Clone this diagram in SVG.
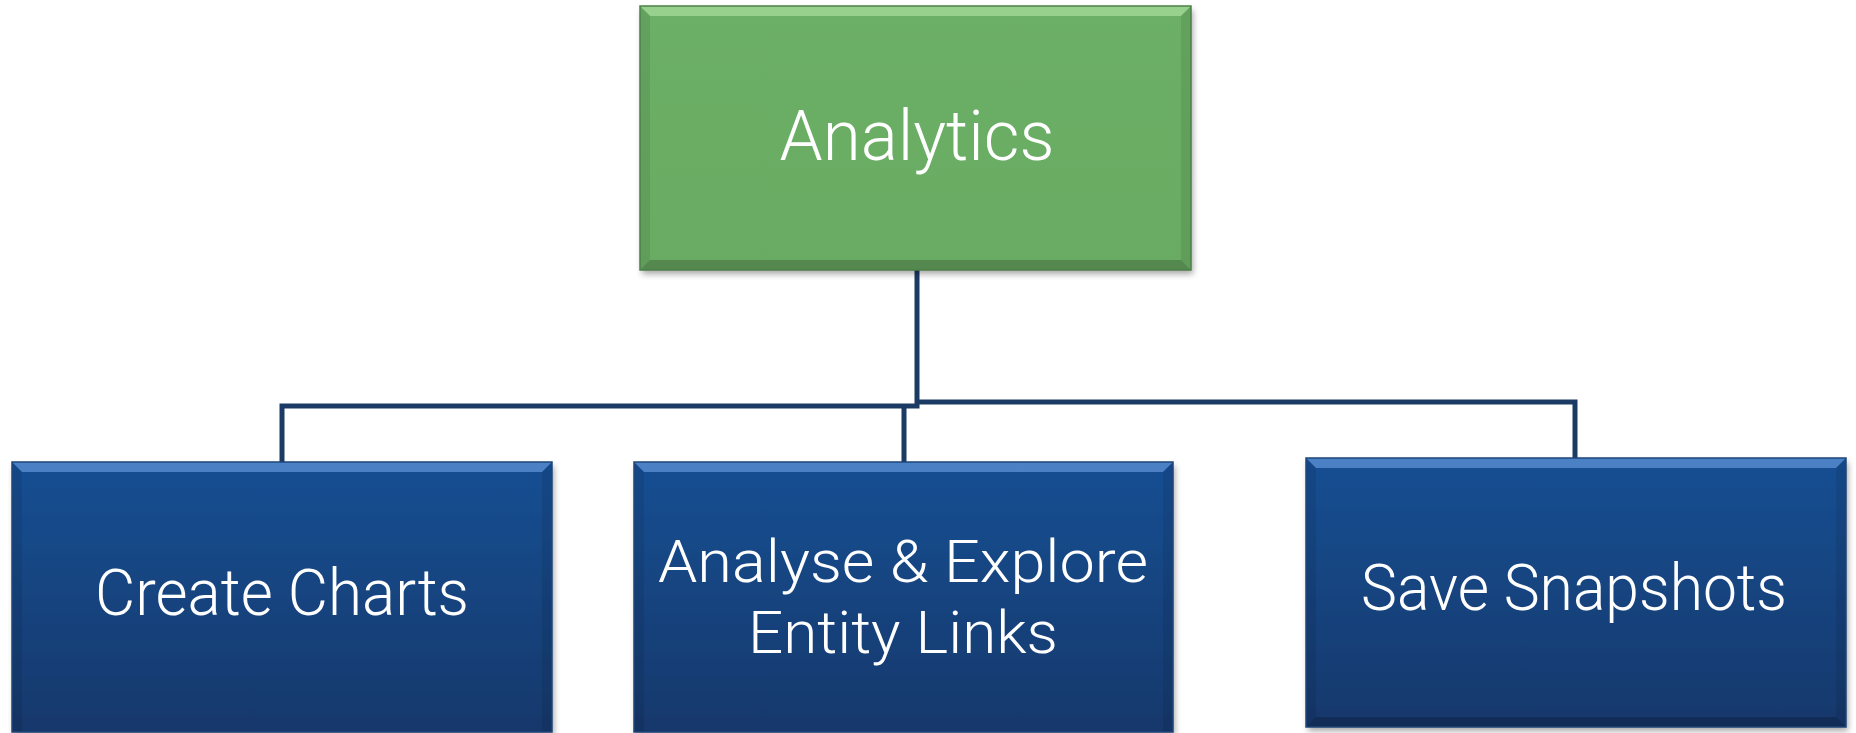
<svg xmlns="http://www.w3.org/2000/svg" width="1856" height="733" viewBox="0 0 1856 733">
<defs>
<linearGradient id="gBlue" x1="0" y1="0" x2="0" y2="1">
<stop offset="0" stop-color="#164f93"/>
<stop offset="1" stop-color="#12386b"/>
</linearGradient>
<linearGradient id="gGreen" x1="0" y1="0" x2="0" y2="1">
<stop offset="0" stop-color="#6caf66"/>
<stop offset="1" stop-color="#69ab63"/>
</linearGradient>
<filter id="sh" x="-5%" y="-5%" width="110%" height="115%">
<feDropShadow dx="2" dy="4" stdDeviation="3" flood-color="#000" flood-opacity="0.35"/>
</filter>
</defs>
<style>
.lbl{font-family:"Roboto","Liberation Sans",sans-serif;font-weight:300;fill:#fff;text-anchor:middle}
.big{font-size:70px}
.mid{font-size:64px}
.two{font-size:60px}
.conn{stroke:#1b3a64;stroke-width:5;fill:none;stroke-linecap:square}
.bvTop{fill:#ffffff;fill-opacity:0.28}
.bvSide{fill:#000;fill-opacity:0.08}
.bvBot{fill:#000;fill-opacity:0.2}
</style>
<rect width="1856" height="733" fill="#fff"/>
<g id="connectors">
<path class="conn" d="M917 271 V404 M282 462 V406 H917 M904 406 V462 M917 402 H1575 V458"/>
</g>
<g id="node-analytics">
<rect x="640" y="6" width="551" height="264" fill="url(#gGreen)" filter="url(#sh)"/>
<polygon class="bvTop" points="640,6 1191,6 1181,16 650,16" style="fill:#b5e8a6;fill-opacity:0.6"/>
<polygon class="bvSide" points="640,6 650,16 650,260 640,270"/>
<polygon class="bvSide" points="1191,6 1181,16 1181,260 1191,270"/>
<polygon class="bvBot" points="640,270 650,260 1181,260 1191,270"/>
<rect x="640" y="6" width="551" height="264" fill="none" stroke="#4d8048" stroke-width="1.5"/>
<text class="lbl big" x="917" y="160" textLength="275" lengthAdjust="spacingAndGlyphs">Analytics</text>
</g>
<g id="node-create-charts">
<rect x="12" y="462" width="540" height="270" fill="url(#gBlue)" filter="url(#sh)"/>
<polygon class="bvTop" points="12,462 552,462 542,472 22,472" style="fill:#6fa3e6;fill-opacity:0.6"/>
<polygon class="bvSide" points="12,462 22,472 22,732 12,732"/>
<polygon class="bvSide" points="552,462 542,472 542,732 552,732"/>
<rect x="12" y="462" width="540" height="270" fill="none" stroke="#1f4578" stroke-width="1.5"/>
<text class="lbl mid" x="282" y="615" textLength="374" lengthAdjust="spacingAndGlyphs">Create Charts</text>
</g>
<g id="node-analyse">
<rect x="634" y="462" width="539" height="270" fill="url(#gBlue)" filter="url(#sh)"/>
<polygon class="bvTop" points="634,462 1173,462 1163,472 644,472" style="fill:#6fa3e6;fill-opacity:0.6"/>
<polygon class="bvSide" points="634,462 644,472 644,732 634,732"/>
<polygon class="bvSide" points="1173,462 1163,472 1163,732 1173,732"/>
<rect x="634" y="462" width="539" height="270" fill="none" stroke="#1f4578" stroke-width="1.5"/>
<text class="lbl two"><tspan x="903" y="582" textLength="490" lengthAdjust="spacingAndGlyphs">Analyse &amp; Explore</tspan><tspan x="903" y="653" textLength="310" lengthAdjust="spacingAndGlyphs">Entity Links</tspan></text>
</g>
<g id="node-save">
<rect x="1306" y="458" width="540" height="269" fill="url(#gBlue)" filter="url(#sh)"/>
<polygon class="bvTop" points="1306,458 1846,458 1836,468 1316,468" style="fill:#6fa3e6;fill-opacity:0.6"/>
<polygon class="bvSide" points="1306,458 1316,468 1316,717 1306,727"/>
<polygon class="bvSide" points="1846,458 1836,468 1836,717 1846,727"/>
<polygon class="bvBot" points="1306,727 1316,717 1836,717 1846,727"/>
<rect x="1306" y="458" width="540" height="269" fill="none" stroke="#1f4578" stroke-width="1.5"/>
<text class="lbl mid" x="1574" y="610" textLength="426" lengthAdjust="spacingAndGlyphs">Save Snapshots</text>
</g>
</svg>
